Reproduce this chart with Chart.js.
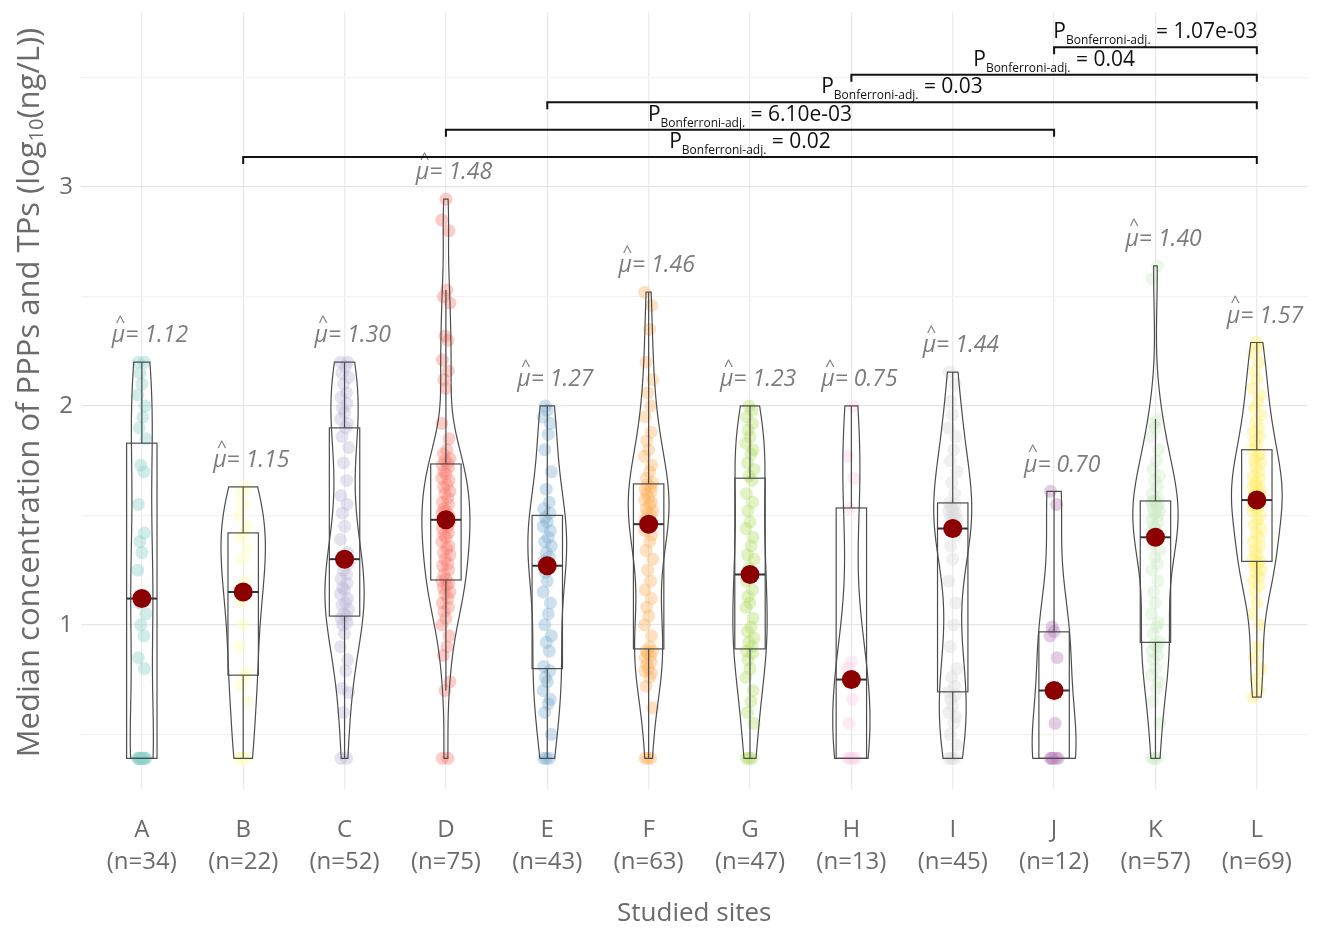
<!DOCTYPE html>
<html>
<head>
<meta charset="utf-8">
<script src="https://cdn.jsdelivr.net/npm/chart.js@4.4.0/dist/chart.umd.min.js"></script>
<style>
  html, body { margin: 0; padding: 0; background: #fff; }
</style>
</head>
<body>
<canvas id="siteChart" width="1317" height="929"></canvas>
<script>
// Sites and sample sizes
const sites = ["A", "B", "C", "D", "E", "F", "G", "H", "I", "J", "K", "L"];
const siteN = [34, 22, 52, 75, 43, 63, 47, 13, 45, 12, 57, 69];
const siteColors = ["#8DD3C7", "#FFFFB3", "#BEBADA", "#FB8072", "#80B1D3", "#FDB462",
                    "#B3DE69", "#FCCDE5", "#D9D9D9", "#BC80BD", "#CCEBC5", "#FFED6F"];

// Box statistics (log10 ng/L)
const medianVals = [1.12, 1.15, 1.30, 1.48, 1.27, 1.46, 1.23, 0.75, 1.44, 0.70, 1.40, 1.57];
const boxQ1 = [0.39, 0.77, 1.04, 1.205, 0.80, 0.89, 0.89, 0.39, 0.694, 0.39, 0.92, 1.29];
const boxQ3 = [1.83, 1.42, 1.90, 1.735, 1.50, 1.644, 1.67, 1.534, 1.557, 0.968, 1.566, 1.80];
const yTickVals = [0.5, 1, 1.5, 2, 2.5, 3, 3.5];

// Individual samples per site (estimated from the jittered points)
const obsA = [0.39,0.39,0.39,0.39,0.39,0.39,0.39,0.39,0.39,0.39,0.8,0.85,0.95,1.0,1.05,1.1,1.12,1.12,
              1.25,1.33,1.38,1.42,1.55,1.7,1.73,1.85,1.9,1.95,2.0,2.05,2.1,2.15,2.2,2.2];
const obsB = [0.39,0.39,0.39,0.65,0.72,0.76,0.78,0.9,1.0,1.1,1.15,1.15,1.2,1.3,1.35,1.4,1.42,1.45,1.5,1.55,1.6,1.63];
const obsC = [0.39,0.39,0.6,0.69,0.71,0.79,0.84,0.9,0.96,1.0,1.01,1.03,1.04,1.05,1.07,1.09,1.1,1.12,1.14,1.16,
              1.17,1.19,1.21,1.23,1.25,1.28,1.3,1.31,1.33,1.39,1.45,1.51,1.55,1.59,1.66,1.74,1.81,1.86,1.9,
              1.92,1.94,1.97,1.99,2.01,2.04,2.06,2.1,2.13,2.15,2.18,2.2,2.2];
const obsD = [0.39,0.39,0.7,0.74,0.86,0.9,0.95,1.0,1.03,1.06,1.08,1.1,1.12,1.14,1.15,1.17,1.18,1.19,1.2,
              1.21,1.23,1.25,1.27,1.28,1.3,1.32,1.33,1.35,1.36,1.38,1.4,1.41,1.42,1.44,1.45,1.46,1.47,1.48,
              1.49,1.5,1.51,1.52,1.53,1.55,1.56,1.58,1.6,1.61,1.63,1.64,1.66,1.67,1.69,1.7,1.72,1.73,1.74,
              1.75,1.76,1.78,1.8,1.85,1.92,2.08,2.12,2.16,2.21,2.3,2.32,2.47,2.5,2.53,2.8,2.85,2.945];
const obsE = [0.39,0.39,0.39,0.5,0.6,0.64,0.66,0.7,0.74,0.76,0.79,0.81,0.88,0.92,0.95,1.0,1.05,1.1,1.15,1.2,1.24,
              1.27,1.29,1.31,1.33,1.36,1.38,1.4,1.43,1.45,1.47,1.49,1.51,1.53,1.56,1.62,1.7,1.8,1.87,1.92,1.95,1.98,2.0];
const obsF = [0.39,0.39,0.39,0.62,0.72,0.76,0.78,0.79,0.8,0.82,0.83,0.85,0.86,0.87,0.88,0.88,
              0.9,0.95,1.0,1.04,1.08,1.12,1.16,1.2,1.25,1.3,1.34,1.38,1.41,1.43,1.45,1.46,
              1.47,1.48,1.5,1.51,1.52,1.53,1.55,1.56,1.57,1.58,1.6,1.61,1.62,1.63,1.64,
              1.65,1.67,1.7,1.73,1.77,1.8,1.84,1.88,1.95,2.0,2.06,2.12,2.2,2.35,2.46,2.52];
const obsG = [0.39,0.39,0.39,0.55,0.6,0.65,0.7,0.76,0.8,0.84,0.87,0.88,0.9,0.92,0.94,0.97,0.99,1.03,1.08,1.1,
              1.13,1.16,1.2,1.23,1.26,1.3,1.32,1.36,1.4,1.44,1.47,1.52,1.56,1.6,1.66,
              1.68,1.71,1.74,1.78,1.8,1.83,1.86,1.89,1.92,1.95,1.98,2.0];
const obsH = [0.39,0.39,0.39,0.39,0.55,0.66,0.75,0.8,0.83,1.53,1.67,1.77,2.0];
const obsI = [0.39,0.39,0.39,0.45,0.5,0.55,0.58,0.6,0.63,0.66,0.68,0.694,0.72,0.76,0.8,0.9,1.0,1.1,1.2,1.3,1.36,1.41,
              1.44,1.46,1.47,1.48,1.49,1.5,1.51,1.52,1.53,1.54,1.55,1.557,
              1.6,1.65,1.7,1.75,1.8,1.86,1.9,1.96,2.02,2.1,2.155];
const obsJ = [0.39,0.39,0.39,0.39,0.39,0.55,0.85,0.95,0.97,0.99,1.55,1.61];
const obsK = [0.39,0.39,0.39,0.55,0.65,0.71,0.74,0.77,0.8,0.84,0.86,0.88,0.9,0.91,0.92,
              0.96,0.99,1.01,1.05,1.1,1.15,1.2,1.25,1.28,1.31,1.34,1.37,1.39,1.4,
              1.42,1.44,1.45,1.47,1.48,1.5,1.51,1.52,1.53,1.54,1.55,1.56,1.565,1.566,
              1.58,1.6,1.63,1.66,1.68,1.71,1.75,1.8,1.86,1.9,1.92,1.94,2.58,2.64];
const obsL = [0.67,0.7,0.75,0.8,0.85,0.9,1.0,1.05,1.1,1.15,1.18,1.2,1.22,1.24,1.25,1.27,1.28,1.29,
              1.3,1.32,1.34,1.36,1.38,1.4,1.42,1.44,1.46,1.48,1.5,1.52,1.53,1.54,1.55,1.56,1.57,
              1.58,1.59,1.6,1.61,1.62,1.63,1.64,1.65,1.67,1.68,1.7,1.72,1.74,1.75,1.77,1.78,1.8,
              1.82,1.84,1.86,1.88,1.9,1.93,1.96,1.99,2.02,2.05,2.08,2.12,2.16,2.2,2.24,2.27,2.29];
const observations = [obsA, obsB, obsC, obsD, obsE, obsF, obsG, obsH, obsI, obsJ, obsK, obsL];

// Pairwise comparisons, bottom bracket first
const compFrom = ["B", "D", "E", "H", "J"];
const compTo = ["L", "J", "L", "L", "L"];
const compP = ["0.02", "6.10e-03", "0.03", "0.04", "1.07e-03"];

const AXIS_GREY = "#6b6b6b";
const FONT = '"Open Sans", "DejaVu Sans", sans-serif';
const JITTER = [-0.035, 0.02, -0.01, 0.04, -0.025, 0.01, 0.03, -0.04, 0.0, -0.02, 0.025];

// --- violin density (gaussian kernel, nrd0 bandwidth, trimmed to range) ---
function sorted(a) { return a.slice().sort((p, q) => p - q); }
function quantile(s, p) {
    const h = (s.length - 1) * p, lo = Math.floor(h);
    const hi = Math.min(lo + 1, s.length - 1);
    return s[lo] + (h - lo) * (s[hi] - s[lo]);
}
function stdev(a) {
    const m = a.reduce((t, v) => t + v, 0) / a.length;
    return Math.sqrt(a.reduce((t, v) => t + (v - m) * (v - m), 0) / (a.length - 1));
}
function bandwidth(a) {
    const s = sorted(a);
    const sd = stdev(a);
    let lo = Math.min(sd, (quantile(s, 0.75) - quantile(s, 0.25)) / 1.34);
    if (!(lo > 0)) lo = sd || 1;
    return 0.9 * lo * Math.pow(a.length, -0.2);
}
function densityProfile(a) {
    const s = sorted(a), bw = bandwidth(a);
    const lo = s[0], hi = s[s.length - 1];
    let out = [];
    for (let k = 0; k < 256; k++) {
        let y = lo + (hi - lo) * k / 255;
        let d = 0;
        a.forEach(v => { let z = (y - v) / bw; d += Math.exp(-0.5 * z * z); });
        out.push({ y: y, d: d / (a.length * bw * Math.sqrt(2 * Math.PI)) });
    }
    return out;
}
const profiles = observations.map(densityProfile);
const maxDensity = Math.max(...profiles.map(p => Math.max(...p.map(q => q.d))));

function whiskers(i) {
    const iqr = boxQ3[i] - boxQ1[i];
    const inside = observations[i].filter(v => v >= boxQ1[i] - 1.5 * iqr && v <= boxQ3[i] + 1.5 * iqr);
    return [Math.min(...inside), Math.max(...inside)];
}

// Violins + boxes, drawn just before the median dots
const violinPlugin = {
    id: "violinBox",
    beforeDatasetDraw(chart, args) {
        if (chart.data.datasets[args.index].label !== "median") return;
        const { ctx, scales: { x, y } } = chart;
        ctx.save();
        ctx.strokeStyle = "#4d4d4d";
        ctx.lineWidth = 1.2;
        profiles.forEach((prof, i) => {
            const cx = i + 1;
            ctx.beginPath();
            prof.forEach((p, k) => {
                let px = x.getPixelForValue(cx - p.d / maxDensity * 0.25), py = y.getPixelForValue(p.y);
                k ? ctx.lineTo(px, py) : ctx.moveTo(px, py);
            });
            for (let k = prof.length - 1; k >= 0; k--) {
                ctx.lineTo(x.getPixelForValue(cx + prof[k].d / maxDensity * 0.25), y.getPixelForValue(prof[k].y));
            }
            ctx.closePath();
            ctx.stroke();

            // box and whiskers
            const [wLo, wHi] = whiskers(i);
            const left = x.getPixelForValue(cx - 0.15), right = x.getPixelForValue(cx + 0.15);
            const top = y.getPixelForValue(boxQ3[i]), bottom = y.getPixelForValue(boxQ1[i]);
            const mid = x.getPixelForValue(cx);
            ctx.strokeRect(left, top, right - left, bottom - top);
            ctx.beginPath();
            ctx.moveTo(mid, top); ctx.lineTo(mid, y.getPixelForValue(wHi));
            ctx.moveTo(mid, bottom); ctx.lineTo(mid, y.getPixelForValue(wLo));
            ctx.stroke();
            ctx.save();
            ctx.lineWidth = 2;
            ctx.strokeStyle = "#333";
            ctx.beginPath();
            ctx.moveTo(left, y.getPixelForValue(medianVals[i]));
            ctx.lineTo(right, y.getPixelForValue(medianVals[i]));
            ctx.stroke();
            ctx.restore();
        });
        ctx.restore();
    }
};

// Median labels, comparison brackets, y axis title with subscript
const annotationPlugin = {
    id: "annotations",
    afterDatasetsDraw(chart) {
        const { ctx, scales: { x, y }, chartArea } = chart;
        ctx.save();

        // mu-hat labels
        ctx.fillStyle = "#7c7c7c";
        ctx.textBaseline = "middle";
        observations.forEach((obs, i) => {
            const label = "\u03bc= " + medianVals[i].toFixed(2);
            ctx.font = "italic 23px " + FONT;
            const w = ctx.measureText(label).width;
            const muW = ctx.measureText("\u03bc").width;
            const px = x.getPixelForValue(i + 1.08), py = y.getPixelForValue(Math.max(...obs) + 0.12);
            ctx.textAlign = "left";
            ctx.fillText(label, px - w / 2, py);
            ctx.font = "17px " + FONT;
            ctx.textAlign = "center";
            ctx.fillText("^", px - w / 2 + muW / 2 + 2, py - 14);
        });

        // brackets
        const top = Math.max(...observations.map(o => Math.max(...o)));
        ctx.strokeStyle = "#111";
        ctx.fillStyle = "#111";
        ctx.lineWidth = 2;
        ctx.textBaseline = "alphabetic";
        ctx.textAlign = "left";
        compP.forEach((p, k) => {
            const x1 = x.getPixelForValue(sites.indexOf(compFrom[k]) + 1);
            const x2 = x.getPixelForValue(sites.indexOf(compTo[k]) + 1);
            const by = y.getPixelForValue(top + 0.192 + k * 0.1255);
            ctx.beginPath();
            ctx.moveTo(x1, by + 7); ctx.lineTo(x1, by); ctx.lineTo(x2, by); ctx.lineTo(x2, by + 7);
            ctx.stroke();

            const parts = [
                { t: "P", f: "21px " + FONT, dy: -9 },
                { t: "Bonferroni-adj.", f: "12px " + FONT, dy: -3 },
                { t: " = " + p, f: "21px " + FONT, dy: -9 }
            ];
            let total = 0;
            parts.forEach(s => { ctx.font = s.f; s.w = ctx.measureText(s.t).width; total += s.w; });
            let tx = (x1 + x2) / 2 - total / 2;
            parts.forEach(s => { ctx.font = s.f; ctx.fillText(s.t, tx, by + s.dy); tx += s.w; });
        });

        // y axis title
        ctx.translate(30, (chartArea.top + chartArea.bottom) / 2 - 8);
        ctx.rotate(-Math.PI / 2);
        ctx.fillStyle = AXIS_GREY;
        ctx.textBaseline = "middle";
        const segs = [
            { t: "Median concentration of PPPs and TPs (log", f: "31px " + FONT, dy: 0 },
            { t: "10", f: "20px " + FONT, dy: 7 },
            { t: "(ng/L))", f: "31px " + FONT, dy: 0 }
        ];
        let total = 0;
        segs.forEach(s => { ctx.font = s.f; s.w = ctx.measureText(s.t).width; total += s.w; });
        let tx = -total / 2;
        segs.forEach(s => { ctx.font = s.f; ctx.fillText(s.t, tx, s.dy); tx += s.w; });
        ctx.restore();
    }
};

const pointSets = observations.map((obs, i) => ({
    label: sites[i],
    data: obs.map((v, k) => ({ x: i + 1 + JITTER[k % JITTER.length], y: v })),
    backgroundColor: siteColors[i] + "66",
    borderWidth: 0,
    pointRadius: 6.5,
    order: 1
}));

const medianSet = {
    label: "median",
    data: medianVals.map((m, i) => ({ x: i + 1, y: m })),
    backgroundColor: "#8B0000",
    borderWidth: 0,
    pointRadius: 9.5,
    order: 0
};

let ctx = document.getElementById("siteChart").getContext("2d");
let siteChart = new Chart(ctx, {
    type: "scatter",
    data: { datasets: pointSets.concat([medianSet]) },
    options: {
        responsive: false,
        animation: false,
        devicePixelRatio: 1,
        events: [],
        layout: { padding: { top: 12, right: 1, left: 0, bottom: 0 } },
        plugins: { legend: { display: false }, tooltip: { enabled: false } },
        scales: {
            x: {
                type: "linear",
                min: 0.4,
                max: 12.5,
                afterBuildTicks: scale => { scale.ticks = sites.map((s, i) => ({ value: i + 1 })); },
                afterFit: scale => { scale.height = 140; scale.paddingLeft = 0; scale.paddingRight = 0; },
                ticks: {
                    autoSkip: false,
                    maxRotation: 0,
                    minRotation: 0,
                    padding: 25,
                    color: AXIS_GREY,
                    font: { family: FONT, size: 24, lineHeight: 1.333 },
                    callback: (value, index) => [sites[index], "(n=" + siteN[index] + ")"]
                },
                grid: { color: "#ebebeb", lineWidth: 1.3, drawTicks: false },
                border: { display: false },
                title: {
                    display: true,
                    text: "Studied sites",
                    color: AXIS_GREY,
                    font: { family: FONT, size: 26 },
                    padding: 0
                }
            },
            y: {
                min: 0.25,
                max: 3.8,
                afterBuildTicks: scale => { scale.ticks = yTickVals.map(v => ({ value: v })); },
                afterFit: scale => { scale.width = 81; scale.paddingTop = 0; scale.paddingBottom = 0; },
                ticks: {
                    padding: 8,
                    color: AXIS_GREY,
                    font: { family: FONT, size: 24 },
                    callback: v => Number.isInteger(v) ? v : ""
                },
                grid: {
                    drawTicks: false,
                    lineWidth: 1.3,
                    color: c => Number.isInteger(c.tick.value) ? "#e6e6e6" : "#f2f2f2"
                },
                border: { display: false }
            }
        }
    },
    plugins: [violinPlugin, annotationPlugin]
});
</script>
</body>
</html>
